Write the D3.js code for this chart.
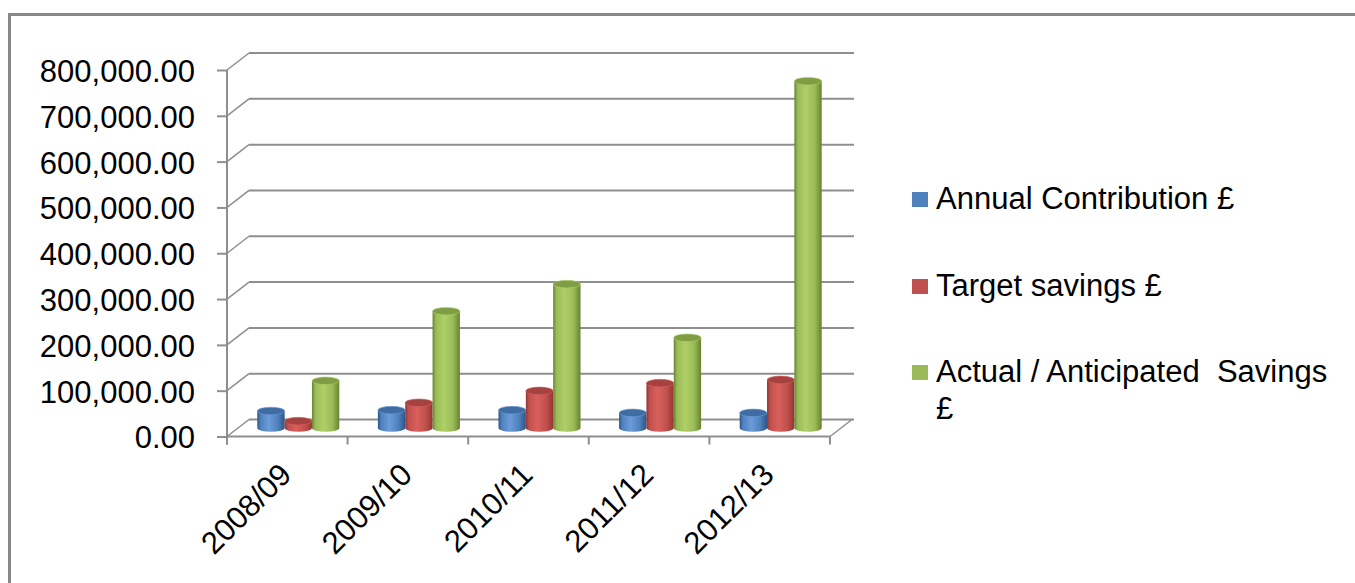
<!DOCTYPE html>
<html>
<head>
<meta charset="utf-8">
<script src="https://cdn.jsdelivr.net/npm/d3@7"></script>
<style>
  body { margin: 0; background: #fff; }
  svg { display: block; }
  text { font-family: "Liberation Sans", Arial, sans-serif; fill: #000; }
</style>
</head>
<body>
<svg></svg>
<script>
// chart data
let categories = ['2008/09', '2009/10', '2010/11', '2011/12', '2012/13']
let seriesNames = ['Annual Contribution £', 'Target savings £', 'Actual / Anticipated  Savings £']
let annualContribution = [37000, 39000, 39000, 33000, 33000]
let targetSavings = [15000, 55000, 81000, 98000, 105000]
let actualSavings = [103000, 255000, 314000, 197000, 757000]
let yTicks = [0, 100000, 200000, 300000, 400000, 500000, 600000, 700000, 800000]

let seriesValues = [annualContribution, targetSavings, actualSavings]
let colors = [
    { base: '#4f81bd', light: '#6b9bd8', dark: '#2c5588', top: '#3f6ca3' },
    { base: '#c0504d', light: '#d9605c', dark: '#923532', top: '#a5413e' },
    { base: '#9bbb59', light: '#aed066', dark: '#66832e', top: '#7f9d45' }
]

let width = 1355
let height = 583

// front plane of the plot and the 3d depth offset
let left = 227
let right = 830
let depthX = 22
let depthY = -17

let svg = d3.select('svg')
    .attr('width', width)
    .attr('height', height)

let yScale = d3.scaleLinear()
    .domain([0, 800000])
    .range([436.5, 70])

let xScale = d3.scaleBand()
    .domain(categories)
    .range([left, right])

let clusterWidth = xScale.bandwidth() * 0.68
let subScale = d3.scaleBand()
    .domain(d3.range(seriesNames.length))
    .range([(xScale.bandwidth() - clusterWidth) / 2, (xScale.bandwidth() + clusterWidth) / 2])

let gridColor = '#8e8e8e'

// outer border
svg.append('path')
    .attr('d', 'M9.5,' + height + ' L9.5,14.5 L' + width + ',14.5')
    .attr('fill', 'none')
    .attr('stroke', '#888')
    .attr('stroke-width', 3)

let drawWalls = () => {
    let grid = svg.append('g')

    // back wall gridlines
    grid.selectAll('line.back')
        .data(yTicks)
        .enter()
        .append('line')
        .attr('x1', left + depthX)
        .attr('x2', right + depthX + 2)
        .attr('y1', (d) => yScale(d) + depthY)
        .attr('y2', (d) => yScale(d) + depthY)
        .attr('stroke', gridColor)
        .attr('stroke-width', 2)

    // side wall diagonals
    grid.selectAll('line.side')
        .data(yTicks)
        .enter()
        .append('line')
        .attr('x1', left)
        .attr('x2', left + depthX)
        .attr('y1', (d) => yScale(d))
        .attr('y2', (d) => yScale(d) + depthY)
        .attr('stroke', gridColor)
        .attr('stroke-width', 1.5)

    // floor front edge and right edge
    grid.append('line')
        .attr('x1', left).attr('x2', right)
        .attr('y1', yScale(0)).attr('y2', yScale(0))
        .attr('stroke', gridColor).attr('stroke-width', 2)
    grid.append('line')
        .attr('x1', right).attr('x2', right + depthX)
        .attr('y1', yScale(0)).attr('y2', yScale(0) + depthY)
        .attr('stroke', gridColor).attr('stroke-width', 1.5)
}

let drawAxes = () => {
    let yAxis = d3.axisLeft(yScale)
        .tickValues(yTicks)
        .tickSize(10)
        .tickPadding(22)
        .tickFormat(d3.format(',.2f'))

    let gy = svg.append('g')
        .attr('transform', 'translate(' + left + ',0)')
        .call(yAxis)
    gy.select('.domain').remove()
    gy.selectAll('.tick line').attr('stroke', gridColor).attr('stroke-width', 2)
    gy.selectAll('.tick text')
        .style('font-size', '31px')
        .attr('dy', '0.37em')
        .attr('fill', '#000')

    gy.append('line')
        .attr('x1', 0).attr('x2', 0)
        .attr('y1', yScale(800000)).attr('y2', yScale(0) + 8)
        .attr('stroke', gridColor).attr('stroke-width', 2)

    // category ticks on the floor edge
    let bounds = categories.map((c) => xScale(c)).concat([right])
    svg.append('g')
        .selectAll('line')
        .data(bounds)
        .enter()
        .append('line')
        .attr('x1', (d) => d).attr('x2', (d) => d)
        .attr('y1', yScale(0)).attr('y2', yScale(0) + 8)
        .attr('stroke', gridColor).attr('stroke-width', 2)

    svg.append('g')
        .selectAll('text')
        .data(categories)
        .enter()
        .append('text')
        .attr('transform', (d) => 'translate(' + (xScale(d) + xScale.bandwidth() / 2 + 6) + ',' + (yScale(0) + 40) + ') rotate(-45)')
        .attr('text-anchor', 'end')
        .style('font-size', '31px')
        .text((d) => d)
}

let drawBars = () => {
    let defs = svg.append('defs')
    colors.forEach((c, i) => {
        let grad = defs.append('linearGradient')
            .attr('id', 'body' + i)
            .attr('x1', '0%').attr('x2', '100%')
            .attr('y1', '0%').attr('y2', '0%')
        grad.append('stop').attr('offset', '0%').attr('stop-color', c.dark)
        grad.append('stop').attr('offset', '12%').attr('stop-color', c.base)
        grad.append('stop').attr('offset', '42%').attr('stop-color', c.light)
        grad.append('stop').attr('offset', '75%').attr('stop-color', c.base)
        grad.append('stop').attr('offset', '100%').attr('stop-color', c.dark)
    })

    let ry = 3.8
    let bw = subScale.bandwidth()
    let base = yScale(0) + depthY / 2

    categories.forEach((cat, ci) => {
        seriesValues.forEach((vals, si) => {
            let xl = xScale(cat) + depthX / 2 + subScale(si)
            let xr = xl + bw
            let yt = yScale(vals[ci]) + depthY / 2
            let g = svg.append('g')

            g.append('path')
                .attr('d', 'M' + xl + ',' + yt + ' L' + xl + ',' + base +
                    ' A' + (bw / 2) + ',' + ry + ' 0 0 0 ' + xr + ',' + base +
                    ' L' + xr + ',' + yt + ' Z')
                .attr('fill', 'url(#body' + si + ')')

            g.append('ellipse')
                .attr('cx', xl + bw / 2)
                .attr('cy', yt)
                .attr('rx', bw / 2)
                .attr('ry', ry)
                .attr('fill', colors[si].top)
                .attr('stroke', colors[si].light)
                .attr('stroke-width', 0.6)
        })
    })
}

let drawLegend = () => {
    let legendLines = [['Annual Contribution £'], ['Target savings £'], ['Actual / Anticipated  Savings', '£']]
    let rows = [209, 296, 382]

    let items = svg.append('g')
        .selectAll('g')
        .data(seriesNames)
        .enter()
        .append('g')
        .attr('transform', (d, i) => 'translate(912,' + rows[i] + ')')

    items.append('rect')
        .attr('x', 0).attr('y', -17)
        .attr('width', 16).attr('height', 15)
        .attr('fill', (d, i) => colors[i].base)

    items.append('text')
        .attr('x', 25)
        .style('font-size', '31px')
        .style('white-space', 'pre')
        .selectAll('tspan')
        .data((d, i) => legendLines[i])
        .enter()
        .append('tspan')
        .attr('x', 24)
        .attr('dy', (d, j) => j === 0 ? 0 : 37)
        .text((d) => d)
}

drawWalls()
drawBars()
drawAxes()
drawLegend()
</script>
</body>
</html>
